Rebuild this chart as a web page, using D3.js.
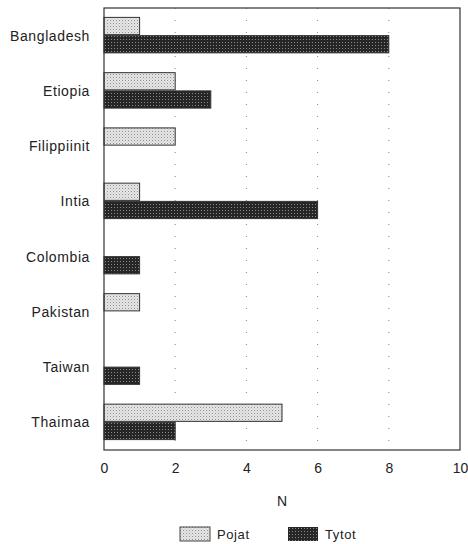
<!DOCTYPE html>
<html>
<head>
<meta charset="utf-8">
<script src="https://cdn.jsdelivr.net/npm/d3@7"></script>
<style>
  body { margin: 0; background: #fff; }
  text { font-family: "Liberation Sans", Arial, sans-serif; fill: #222; }
</style>
</head>
<body>
<div id="chart-area"></div>
<script>
var countries = ['Bangladesh', 'Etiopia', 'Filippiinit', 'Intia', 'Colombia', 'Pakistan', 'Taiwan', 'Thaimaa']
var pojat = [1, 2, 2, 1, 0, 1, 0, 5]
var tytot = [8, 3, 0, 6, 1, 0, 1, 2]
var seriesNames = ['Pojat', 'Tytot']
var xTicks = [0, 2, 4, 6, 8, 10]

var margin = { left: 104, right: 8, top: 8, bottom: 94 }
var width = 468 - margin.left - margin.right,
    height = 544 - margin.top - margin.bottom

var svg = d3.select('#chart-area')
  .append('svg')
    .attr('width', 468)
    .attr('height', 544)

// fill patterns
var defs = svg.append('defs')
var p1 = defs.append('pattern')
    .attr('id', 'pat-pojat')
    .attr('width', 3).attr('height', 3)
    .attr('patternUnits', 'userSpaceOnUse')
p1.append('rect').attr('width', 3).attr('height', 3).attr('fill', '#e6e6e6')
p1.append('rect').attr('width', 1).attr('height', 1).attr('fill', '#8f8f8f')
p1.append('rect').attr('x', 1.5).attr('y', 1.5).attr('width', 1).attr('height', 1).attr('fill', '#bdbdbd')

var p2 = defs.append('pattern')
    .attr('id', 'pat-tytot')
    .attr('width', 3).attr('height', 3)
    .attr('patternUnits', 'userSpaceOnUse')
p2.append('rect').attr('width', 3).attr('height', 3).attr('fill', '#262626')
p2.append('rect').attr('x', 1).attr('y', 1).attr('width', 1).attr('height', 1).attr('fill', '#8a8a8a')

var fills = { Pojat: 'url(#pat-pojat)', Tytot: 'url(#pat-tytot)' }

var g = svg.append('g')
    .attr('transform', 'translate(' + margin.left + ', ' + margin.top + ')')

var x = d3.scaleLinear()
    .domain([0, 10])
    .range([0, width])

var y = d3.scaleBand()
    .domain(countries)
    .range([0, height])
    .paddingInner(0.34)
    .paddingOuter(0.17)

var y1 = d3.scaleBand()
    .domain(seriesNames)
    .range([0, y.bandwidth()])

// dotted grid
g.selectAll('.grid')
  .data(xTicks.slice(1, -1))
  .enter()
  .append('line')
    .attr('x1', d => x(d)).attr('x2', d => x(d))
    .attr('y1', 0).attr('y2', height)
    .attr('stroke', '#888')
    .attr('stroke-width', 1)
    .attr('stroke-dasharray', '1,11')

var data = []
countries.forEach((c, i) => {
  data.push({ country: c, series: 'Pojat', value: pojat[i] })
  data.push({ country: c, series: 'Tytot', value: tytot[i] })
})

g.selectAll('rect.bar')
  .data(data.filter(d => d.value > 0))
  .enter()
  .append('rect')
    .attr('class', 'bar')
    .attr('x', x(0))
    .attr('y', d => y(d.country) + y1(d.series))
    .attr('width', d => x(d.value) - x(0))
    .attr('height', y1.bandwidth() - 1)
    .attr('fill', d => fills[d.series])
    .attr('stroke', '#333')
    .attr('stroke-width', 1)

// frame
g.append('rect')
    .attr('width', width)
    .attr('height', height)
    .attr('fill', 'none')
    .attr('stroke', '#333')
    .attr('stroke-width', 1.2)

// y labels
g.selectAll('.ylab')
  .data(countries)
  .enter()
  .append('text')
    .attr('x', -14)
    .attr('y', d => y(d) + y.bandwidth() / 2)
    .attr('dy', '0.35em')
    .attr('text-anchor', 'end')
    .attr('font-size', '14px')
    .attr('letter-spacing', '0.6px')
    .text(d => d)

// x axis
var xAxisCall = d3.axisBottom(x)
    .tickValues(xTicks)
    .tickSize(0)
    .tickPadding(13)
var xAxis = g.append('g')
    .attr('transform', 'translate(0,' + height + ')')
    .call(xAxisCall)
xAxis.select('.domain').remove()
xAxis.selectAll('text')
    .attr('font-size', '14px')
    .attr('font-family', '"Liberation Sans", Arial, sans-serif')
    .attr('fill', '#222')

g.append('text')
  .attr('x', x(5))
  .attr('y', height + 56)
  .attr('font-size', '14px')
  .attr('text-anchor', 'middle')
  .text('N')

// legend
var legendX = [180, 288]
var legend = svg.selectAll('.legend')
  .data(seriesNames)
  .enter()
  .append('g')
    .attr('transform', (d, i) => 'translate(' + legendX[i] + ',527)')
legend.append('rect')
    .attr('width', 30).attr('height', 14)
    .attr('fill', d => fills[d])
    .attr('stroke', d => d === 'Pojat' ? '#444' : 'none')
legend.append('text')
    .attr('x', 37)
    .attr('y', 7)
    .attr('dy', '0.35em')
    .attr('font-size', '13px')
    .attr('letter-spacing', '0.6px')
    .text(d => d)
</script>
</body>
</html>
